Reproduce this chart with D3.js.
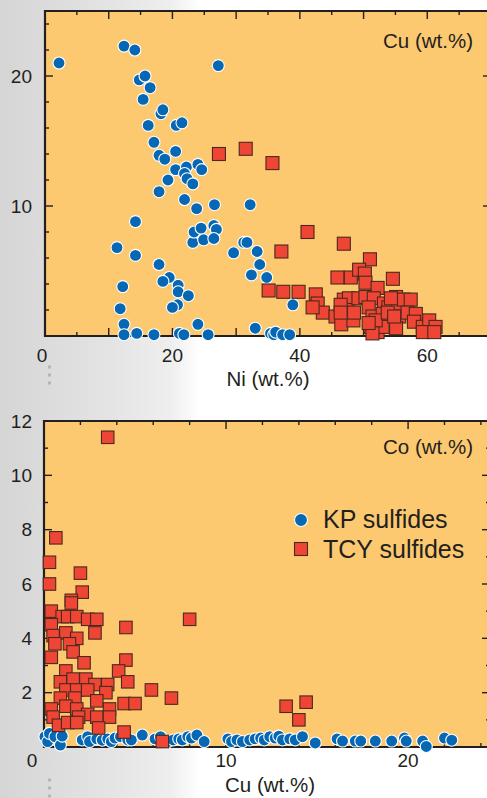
<!DOCTYPE html>
<html><head><meta charset="utf-8">
<script src="https://cdn.jsdelivr.net/npm/d3@7"></script>
<style>html,body{margin:0;padding:0;background:#fff;} svg{display:block;font-family:"Liberation Sans",Arial,Helvetica,sans-serif;}</style>
</head><body><svg id="c" width="487" height="798"></svg>
<script>
// ---------- DATA ----------
// Panel 1: Ni (x) vs Cu (y), wt.%
const kpNi = [2.2,12.4,14.1,27.2,14.8,15.7,16.5,15.4,18.2,18.5,16.2,20.6,21.5,17.1,17.9,18.8,20.5,20.5,22.2,21.9,22.3,24.0,24.6,23.2,19.3,17.9,21.9,23.8,26.6,32.2,14.2,11.3,14.2,23.2,23.4,24.5,24.9,26.5,26.9,26.5,29.6,31.2,31.7,33.3,33.7,32.4,34.8,17.9,19.5,18.5,20.9,20.9,22.5,20.8,20.0,12.2,11.8,12.4,12.4,14.4,17.1,21.1,21.8,24.0,25.6,33.0,35.4,35.9,36.2,37.3,38.4,38.9];
const kpCu = [21.0,22.3,22.0,20.8,19.7,20.0,19.1,18.2,17.1,17.4,16.2,16.2,16.4,14.9,13.9,13.6,14.2,12.8,13.0,12.5,12.1,13.2,12.8,11.7,12.0,11.1,10.5,9.8,10.1,10.1,8.8,6.8,6.2,7.2,8.0,8.3,7.4,8.5,8.2,7.5,6.4,7.2,7.2,6.5,5.5,4.7,4.5,5.5,4.5,4.2,3.9,3.4,3.1,2.4,2.2,3.8,2.1,0.9,0.1,0.2,0.1,0.2,0.1,0.9,0.1,0.6,0.2,0.1,0.3,0.1,0.1,2.4];
const tcyNi = [27.3,31.5,35.7,41.2,46.9,37.1,51.0,45.9,48.0,49.3,50.2,50.3,54.6,35.1,37.4,39.8,42.5,42.8,43.6,45.6,46.5,46.9,47.7,47.4,48.4,49.2,50.3,52.2,51.6,50.8,51.4,51.1,52.2,53.2,53.9,53.0,53.8,53.0,55.1,55.4,55.6,55.1,56.3,57.4,56.9,58.2,57.9,59.3,60.3,59.3,61.3,61.1,48.5,51.9,53.8,54.8,46.4,54.3,51.4,50.8,46.4,42.0];
const tcyCu = [14.0,14.4,13.3,8.0,7.1,6.5,5.9,4.5,4.5,5.1,4.8,4.1,4.4,3.5,3.4,3.4,3.2,2.5,1.8,1.5,0.9,2.8,2.9,2.0,1.2,2.9,3.0,3.7,2.9,2.2,1.5,0.7,0.3,2.5,2.2,1.7,1.2,0.7,3.0,2.4,1.5,0.6,2.8,2.8,1.8,1.7,1.1,0.7,1.2,0.3,0.7,0.3,1.8,1.2,1.8,1.5,2.4,2.9,0.2,1.0,1.8,2.2];

// Panel 2: Cu (x) vs Co (y), wt.%
const kpCu2 = [0.05,0.2,0.3,0.6,0.9,1.0,2.1,2.4,2.5,2.9,3.2,3.5,3.7,3.9,4.2,4.6,4.8,5.4,6.1,6.4,6.8,7.1,7.4,7.6,7.9,8.1,8.4,8.8,10.1,10.3,10.6,10.9,11.3,11.6,11.9,12.1,12.4,12.7,12.9,13.1,13.5,13.8,14.2,14.9,16.1,16.4,17.1,17.4,18.2,19.1,19.8,19.9,20.8,21.0,22.0,22.4];
const kpCo = [0.38,0.2,0.5,0.38,0.07,0.4,0.26,0.38,0.2,0.3,0.25,0.3,0.2,0.33,0.38,0.26,0.26,0.44,0.3,0.38,0.2,0.26,0.3,0.26,0.38,0.33,0.44,0.2,0.3,0.2,0.26,0.2,0.26,0.3,0.33,0.26,0.38,0.33,0.4,0.26,0.3,0.26,0.38,0.15,0.3,0.22,0.22,0.22,0.22,0.22,0.33,0.22,0.22,0.02,0.33,0.25];
const tcyCu2 = [3.5,0.65,0.3,0.3,2.0,2.1,1.5,1.5,0.4,1.0,1.3,1.8,2.4,2.9,8.0,4.5,0.4,0.5,1.2,1.8,1.4,2.8,0.6,1.6,0.4,2.2,4.5,4.1,1.2,4.6,5.9,7.0,0.9,1.6,2.3,2.8,3.5,1.2,1.8,3.4,2.4,0.9,1.7,2.9,4.4,5.0,0.4,1.2,1.8,3.6,2.4,1.9,0.5,2.9,3.6,0.8,1.3,1.8,3.0,4.4,6.5,13.3,14.4,14.0];
const tcyCo = [11.4,7.7,6.8,6.0,6.4,5.7,5.4,5.3,5.0,4.8,4.8,4.8,4.7,4.7,4.7,4.4,4.5,4.1,4.2,4.0,3.8,4.2,3.8,3.5,3.3,3.1,3.2,2.8,2.8,2.4,2.1,1.8,2.4,2.5,2.5,2.3,2.3,2.1,2.1,2.0,2.1,1.8,1.8,1.7,1.6,1.6,1.4,1.5,1.4,1.4,1.2,1.1,1.1,1.1,1.1,0.8,0.9,0.9,0.7,0.55,0.2,1.5,1.65,1.0];

const legendLabels = ["KP sulfides","TCY sulfides"];

// ---------- STYLE ----------
const COL_BG = "#FDC970", COL_AX = "#231f20", COL_KP = "#0668B4", COL_TCY = "#EE4535", COL_TCY_STROKE = "#4a2a1e";
const svg = d3.select("#c");
const defs = svg.append("defs");
const gr = defs.append("linearGradient").attr("id","bg").attr("x1",0).attr("x2",1).attr("y1",0).attr("y2",0);
gr.append("stop").attr("offset",0).attr("stop-color","#d5d5d5");
gr.append("stop").attr("offset",0.55).attr("stop-color","#e4e4e4");
gr.append("stop").attr("offset",0.85).attr("stop-color","#eeeeee");
gr.append("stop").attr("offset",1).attr("stop-color","#ffffff");
svg.append("rect").attr("x",0).attr("y",0).attr("width",200).attr("height",798).attr("fill","url(#bg)");

// dotted decorations
[367,375,383,780,788,796].forEach(yy=>svg.append("rect").attr("x",48).attr("y",yy-1.5).attr("width",3).attr("height",3).attr("fill","#b5b5b5"));

function panel(o){
  const x = d3.scaleLinear().domain(o.xDom).range(o.xRange);
  const y = d3.scaleLinear().domain(o.yDom).range(o.yRange);
  const [X0,X1] = o.xRange, [Y0,Y1] = o.yRange; // Y0 bottom, Y1 top
  const g = svg.append("g");
  g.append("rect").attr("x",X0).attr("y",Y1).attr("width",X1-X0).attr("height",Y0-Y1).attr("fill",COL_BG);
  // ticks
  const tk = g.append("g").attr("stroke",COL_AX).attr("stroke-width",1.4);
  const xt = d3.range(o.xDom[0], o.xDom[1]+1e-9, o.xStep);
  xt.forEach(v=>{
    const L = (Math.abs(v % o.xMajor) < 1e-6) ? 8 : 4;
    const px = x(v);
    tk.append("line").attr("x1",px).attr("x2",px).attr("y1",Y0).attr("y2",Y0-L);
    tk.append("line").attr("x1",px).attr("x2",px).attr("y1",Y1).attr("y2",Y1+L);
  });
  const yt = d3.range(o.yDom[0], o.yDom[1]+1e-9, o.yStep);
  yt.forEach(v=>{
    const L = (Math.abs(v % o.yMajor) < 1e-6) ? 8 : 4;
    const py = y(v);
    tk.append("line").attr("x1",X0).attr("x2",X0+L).attr("y1",py).attr("y2",py);
    tk.append("line").attr("x1",X1).attr("x2",X1-L).attr("y1",py).attr("y2",py);
  });
  // frame
  g.append("path").attr("d",`M${X1},${Y1}H${X0}V${Y0}H${X1}`).attr("fill","none").attr("stroke",COL_AX).attr("stroke-width",2.2);
  // tick labels
  o.xLabels.forEach(v=>{
    g.append("text").attr("x",x(v)+(v===0?o.zeroDx:0)).attr("y",Y0+o.xLabDy).attr("text-anchor","middle")
      .attr("font-size",19).attr("fill",COL_AX).text(v);
  });
  o.yLabels.forEach(v=>{
    g.append("text").attr("x",32).attr("y",y(v)+6.5).attr("text-anchor","end")
      .attr("font-size",19).attr("fill",COL_AX).text(v);
  });
  // titles
  g.append("text").attr("x",o.xTitleX).attr("y",o.xTitleY).attr("text-anchor","middle").attr("font-size",20.5).attr("fill",COL_AX).text(o.xTitle);
  g.append("text").attr("x",473).attr("y",o.yTitleY).attr("text-anchor","end").attr("font-size",20.5).attr("fill",COL_AX).text(o.yTitle);
  // points
  const kp = d3.zip(o.kpX,o.kpY), tcy = d3.zip(o.tcyX,o.tcyY);
  g.append("g").selectAll("circle").data(kp).join("circle")
    .attr("cx",d=>x(d[0])).attr("cy",d=>y(d[1])).attr("r",6)
    .attr("fill",COL_KP).attr("stroke","#fff").attr("stroke-width",1.1);
  const s = o.sq;
  g.append("g").selectAll("rect").data(tcy).join("rect")
    .attr("x",d=>x(d[0])-s/2).attr("y",d=>y(d[1])-s/2).attr("width",s).attr("height",s)
    .attr("fill",COL_TCY).attr("stroke",COL_TCY_STROKE).attr("stroke-width",1.1);
  return g;
}

panel({xDom:[0,70], xRange:[45,491], yDom:[0,25], yRange:[336,11],
  xStep:5, xMajor:10, yStep:2, yMajor:10,
  xLabels:[0,20,40,60], yLabels:[10,20], zeroDx:-3, xLabDy:26,
  xTitle:"Ni (wt.%)", xTitleX:268, xTitleY:386, yTitle:"Cu (wt.%)", yTitleY:48,
  kpX:kpNi, kpY:kpCu, tcyX:tcyNi, tcyY:tcyCu, sq:13});

panel({xDom:[0,24.5], xRange:[44,490], yDom:[0,12], yRange:[747,421],
  xStep:2, xMajor:10, yStep:1, yMajor:2,
  xLabels:[0,10,20], yLabels:[2,4,6,8,10,12], zeroDx:-12, xLabDy:20,
  xTitle:"Cu (wt.%)", xTitleX:270, xTitleY:792, yTitle:"Co (wt.%)", yTitleY:454,
  kpX:kpCu2, kpY:kpCo, tcyX:tcyCu2, tcyY:tcyCo, sq:12.5});

// legend
const lg = svg.append("g");
lg.append("circle").attr("cx",301).attr("cy",520).attr("r",6.5).attr("fill",COL_KP).attr("stroke","#fff").attr("stroke-width",1.1);
lg.append("rect").attr("x",294.5).attr("y",542.5).attr("width",13).attr("height",13).attr("fill",COL_TCY).attr("stroke",COL_TCY_STROKE).attr("stroke-width",1.1);
lg.selectAll("text").data(legendLabels).join("text")
  .attr("x",323).attr("y",(d,i)=>528+i*30).attr("font-size",25).attr("fill",COL_AX).text(d=>d);
</script></body></html>
